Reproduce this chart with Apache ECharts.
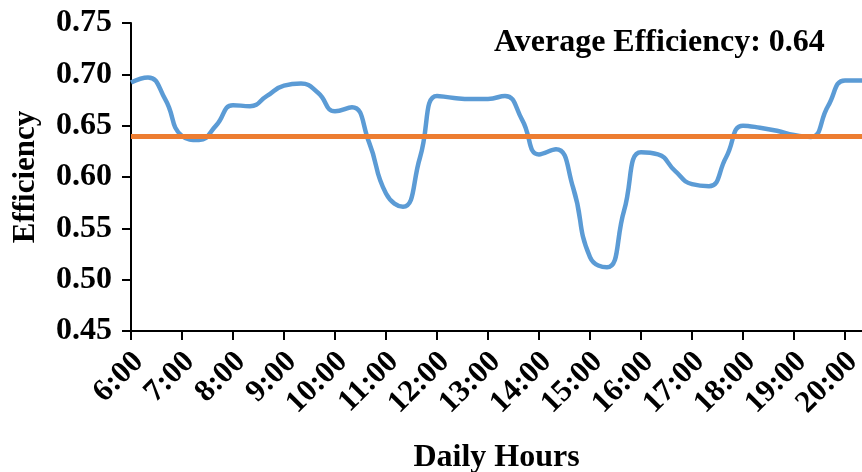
<!DOCTYPE html>
<html>
<head>
<meta charset="utf-8">
<script src="https://cdn.jsdelivr.net/npm/echarts@6/dist/echarts.min.js"></script>
<style>
html,body{margin:0;padding:0;background:#fff;}
#chart{width:862px;height:472px;}
</style>
</head>
<body>
<div id="chart"></div>
<script>
// Times of day, every 20 minutes
const hours = ["6:00","6:20","6:40","7:00","7:20","7:40","8:00","8:20","8:40","9:00","9:20","9:40",
  "10:00","10:20","10:40","11:00","11:20","11:40","12:00","12:20","12:40","13:00","13:20","13:40",
  "14:00","14:20","14:40","15:00","15:20","15:40","16:00","16:20","16:40","17:00","17:20","17:40",
  "18:00","18:20","18:40","19:00","19:20","19:40","20:00","20:20"];
const efficiency = [0.692,0.697,0.676,0.640,0.636,0.650,0.670,0.669,0.679,0.689,0.691,0.682,
  0.664,0.668,0.634,0.584,0.571,0.619,0.679,0.677,0.676,0.676,0.679,0.656,
  0.622,0.627,0.590,0.522,0.512,0.567,0.624,0.622,0.606,0.593,0.591,0.619,
  0.650,0.648,0.645,0.641,0.639,0.669,0.694,0.694];
const averageEfficiency = 0.642;
const averageLabel = "Average Efficiency: 0.64";
const yTicks = {min: 0.45, max: 0.75, step: 0.05};

const font = "'Liberation Serif','Times New Roman',serif";
const chart = echarts.init(document.getElementById('chart'));
chart.setOption({
  animation: false,
  backgroundColor: '#fff',
  grid: {left: 131, right: 0, top: 23, bottom: 141, containLabel: false, outerBoundsMode: 'none'},
  xAxis: {
    type: 'category',
    data: hours,
    boundaryGap: false,
    name: 'Daily Hours',
    nameLocation: 'middle',
    nameGap: 111,
    nameTextStyle: {fontFamily: font, fontWeight: 'bold', fontSize: 32, color: '#000'},
    axisLine: {lineStyle: {color: '#000', width: 2}},
    axisTick: {show: true, interval: 2, length: 9, lineStyle: {color: '#000', width: 2}},
    axisLabel: {interval: 2, rotate: 45, margin: 34, padding: [0, -11, 0, 0],
      fontFamily: font, fontWeight: 'bold', fontSize: 31, color: '#000'},
    splitLine: {show: false}
  },
  yAxis: {
    type: 'value',
    min: yTicks.min, max: yTicks.max, interval: yTicks.step,
    name: 'Efficiency',
    nameLocation: 'middle',
    nameGap: 90,
    nameRotate: 90,
    nameTextStyle: {fontFamily: font, fontWeight: 'bold', fontSize: 31, color: '#000'},
    axisLine: {show: true, lineStyle: {color: '#000', width: 2}},
    axisTick: {show: true, length: 9, lineStyle: {color: '#000', width: 2}},
    axisLabel: {margin: 19, fontFamily: font, fontWeight: 'bold', fontSize: 32, color: '#000',
      formatter: v => v.toFixed(2)},
    splitLine: {show: false}
  },
  series: [{
    type: 'line',
    data: efficiency,
    smooth: 0.5,
    symbol: 'none',
    lineStyle: {color: '#5B9BD5', width: 4.5},
    z: 2,
    markLine: {
      silent: true,
      symbol: 'none',
      label: {show: false},
      lineStyle: {color: '#ED7D31', width: 5, type: 'solid'},
      data: [{yAxis: averageEfficiency}],
      z: 3
    }
  }],
  graphic: [{
    type: 'text',
    left: 494,
    top: 27,
    style: {text: averageLabel, fontFamily: font, fontWeight: 'bold', fontSize: 32, fill: '#000'}
  }]
});
</script>
</body>
</html>
